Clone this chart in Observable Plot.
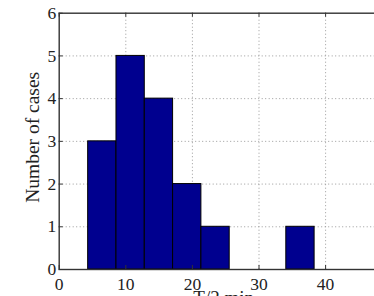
<!DOCTYPE html>
<html>
<head>
<meta charset="utf-8">
<script src="https://cdn.jsdelivr.net/npm/d3@7"></script>
<script src="https://cdn.jsdelivr.net/npm/@observablehq/plot@0.6"></script>
<style>
  html, body { margin: 0; padding: 0; background: #fff; overflow: hidden; }
  svg { overflow: hidden; }
  svg text { font-family: "Liberation Serif", "DejaVu Serif", serif !important; }
</style>
</head>
<body>
<div id="chart"></div>
<script>
// Histogram bins (left edges, right edges) and counts
const binStart = [4.35, 8.6, 12.85, 17.1, 21.35, 25.6, 29.85, 34.1];
const binEnd   = [8.6, 12.85, 17.1, 21.35, 25.6, 29.85, 34.1, 38.35];
const counts   = [3, 5, 4, 2, 1, 0, 0, 1];
const xTicks = [0, 10, 20, 30, 40];
const yTicks = [0, 1, 2, 3, 4, 5, 6];
const xLabel = "T/2 min";
const yLabel = "Number of cases";

const bins = counts.map((c, i) => ({x1: binStart[i], x2: binEnd[i], y: c}));
const font = "Liberation Serif";

const W = 374, H = 296;
const mL = 58.7, mT = 12.7, mB = 27, mR = -17.7;
const innerH = H - mT - mB, innerW = W - mL - mR;
const tick = 4;

const chart = Plot.plot({
  width: W,
  height: H,
  marginLeft: mL,
  marginTop: mT,
  marginBottom: mB,
  marginRight: mR,
  style: {fontFamily: font, fontSize: "17px", color: "#222", background: "#fff", overflow: "hidden"},
  x: {domain: [0, 50], label: null},
  y: {domain: [0, 6], label: null},
  marks: [
    // dotted grid
    Plot.ruleX(xTicks.filter(d => d > 0), {stroke: "#9a9a9a", strokeDasharray: "1,2.5", strokeWidth: 1}),
    Plot.ruleY(yTicks.filter(d => d > 0 && d < 6), {stroke: "#9a9a9a", strokeDasharray: "1,2.5", strokeWidth: 1}),
    // bars
    Plot.rect(bins, {x1: "x1", x2: "x2", y1: 0, y2: "y", fill: "#00008f", stroke: "#000", strokeWidth: 1}),
    // inward ticks
    Plot.tickX(xTicks, {x: d => d, insetTop: innerH - tick, stroke: "#333", strokeWidth: 1}),
    Plot.tickX(xTicks, {x: d => d, insetBottom: innerH - tick, stroke: "#333", strokeWidth: 1}),
    Plot.tickY(yTicks, {y: d => d, insetRight: innerW - tick, stroke: "#333", strokeWidth: 1}),
    // frame
    Plot.frame({stroke: "#333", strokeWidth: 1.4}),
    // axes labels
    Plot.axisX({ticks: xTicks, tickFormat: "d", tickSize: 0, tickPadding: 8, fontSize: 17.5, fontFamily: font, fill: "#222"}),
    Plot.axisY({ticks: yTicks, tickFormat: "d", tickSize: 0, tickPadding: 3, fontSize: 17.5, fontFamily: font, fill: "#222"}),
    Plot.text([yLabel], {frameAnchor: "left", textAnchor: "middle", dx: -26, dy: -4, rotate: -90, fontSize: 19.5, fontFamily: font, fill: "#222", text: d => d}),
    Plot.text([xLabel], {frameAnchor: "bottom", dy: 28, dx: -2, lineAnchor: "middle", fontSize: 19, fontFamily: font, fill: "#222", text: d => d})
  ]
});
document.getElementById("chart").append(chart);
</script>
</body>
</html>
